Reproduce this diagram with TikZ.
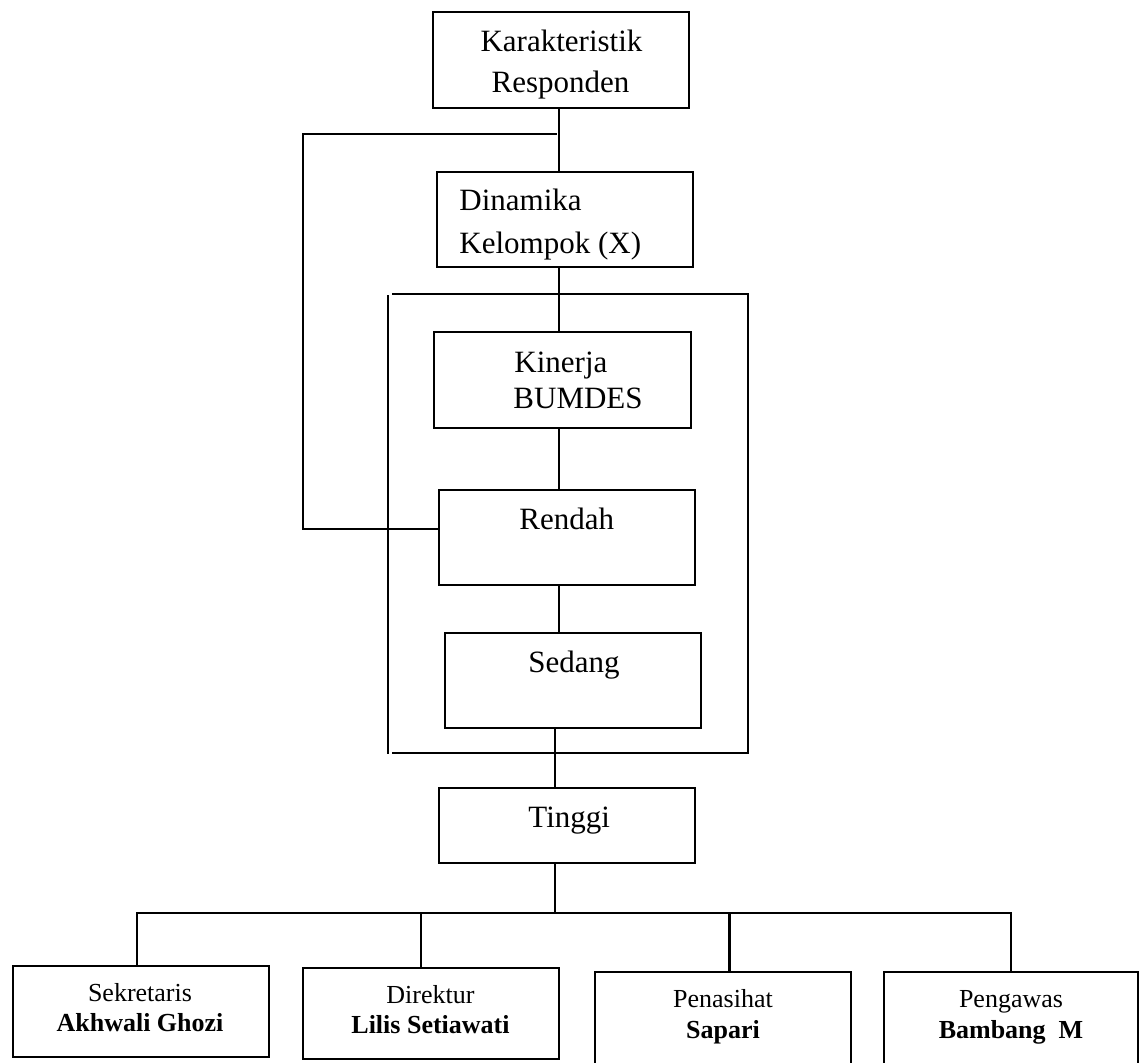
\documentclass[tikz,border=0pt]{standalone}
\usepackage{fontspec}
\setmainfont{Liberation Serif}
\begin{document}
\begin{tikzpicture}[x=1pt,y=-1pt,line width=2.9pt,line cap=rect,
  box/.style={draw,rectangle,inner sep=0pt,line width=2.9pt},
  big/.style={inner sep=0pt,font=\fontsize{31}{37}\selectfont},
  small/.style={inner sep=0pt,font=\fontsize{26}{30}\selectfont},
  smallb/.style={inner sep=0pt,font=\fontsize{26}{30}\selectfont\bfseries}]
\useasboundingbox (0,0) rectangle (1139,1062);
% boxes
\node[box,minimum width=256,minimum height=96] (kar) at (561,60) {};
\node[box,minimum width=256,minimum height=95] (din) at (565,219.5) {};
\node[box,minimum width=257,minimum height=96] (kin) at (562.5,380) {};
\node[box,minimum width=256,minimum height=95] (ren) at (567,537.5) {};
\node[box,minimum width=256,minimum height=95] (sed) at (573,680.5) {};
\node[box,minimum width=256,minimum height=75] (tin) at (567,825.5) {};
\node[box,minimum width=256,minimum height=91] (sek) at (141,1011.5) {};
\node[box,minimum width=256,minimum height=91] (dir) at (431,1013.5) {};
\node[box,minimum width=256,minimum height=96] (pen) at (723,1020) {};
\node[box,minimum width=254,minimum height=96] (peng) at (1011,1020) {};
% texts
\node[big,anchor=base] (t1a) at (561.5,52) {Karakteristik};
\node[big,anchor=base] (t1b) at (560.5,93) {Responden};
\node[big,anchor=base west] (t2a) at (458,210) {Dinamika};
\node[big,anchor=base west] (t2b) at (458,253) {Kelompok (X)};
\node[big,anchor=base west] (t3a) at (513,372) {Kinerja};
\node[big,anchor=base west] (t3b) at (512,408) {BUMDES};
\node[big,anchor=base west] (t4) at (518,529) {Rendah};
\node[big,anchor=base west] (t5) at (527,672) {Sedang};
\node[big,anchor=base west] (t6) at (527,827) {Tinggi};
\node[small,anchor=base] (s1a) at (140,1001) {Sekretaris};
\node[smallb,anchor=base] (s1b) at (140,1031) {Akhwali Ghozi};
\node[small,anchor=base] (s2a) at (430.5,1003) {Direktur};
\node[smallb,anchor=base] (s2b) at (430.5,1033) {Lilis Setiawati};
\node[small,anchor=base] (s3a) at (723,1007) {Penasihat};
\node[smallb,anchor=base] (s3b) at (723,1038) {Sapari};
\node[small,anchor=base] (s4a) at (1011,1007) {Pengawas};
\node[smallb,anchor=base] (s4b) at (1011,1038) {Bambang\ \ M};
% helper coordinates
\coordinate (xa) at (559,0);
\coordinate (xb) at (555,0);
\coordinate (fb) at (556,134);
\coordinate (fbl) at (303,134);
\coordinate (fby) at (0,529);
\coordinate (bus) at (555,913);
\coordinate (busl) at (137,913);
\coordinate (busr) at (1011,913);
\coordinate (d2) at (421,913);
\coordinate (d3) at (729.5,913);
% connectors
\draw (kar.south -| xa) -- (din.north -| xa);
\draw (fb) -- (fbl) -- (fbl |- fby) -- (ren.west |- fby);
\draw (din.south -| xa) -- (kin.north -| xa);
\draw (kin.south -| xa) -- (ren.north -| xa);
\draw (ren.south -| xa) -- (sed.north -| xa);
\draw (sed.south -| xb) -- (tin.north -| xb);
\draw (tin.south -| xb) -- (bus);
\draw (busl) -- (busr);
\draw (busl) -- (busl |- sek.north);
\draw (d2) -- (d2 |- dir.north);
\draw (d3) -- (d3 |- pen.north);
\draw (busr) -- (busr |- peng.north);
% bracket
\draw (393,294) -- (748,294) -- (748,753) -- (393,753);
\draw (388,296) -- (388,753);
\end{tikzpicture}
\end{document}
